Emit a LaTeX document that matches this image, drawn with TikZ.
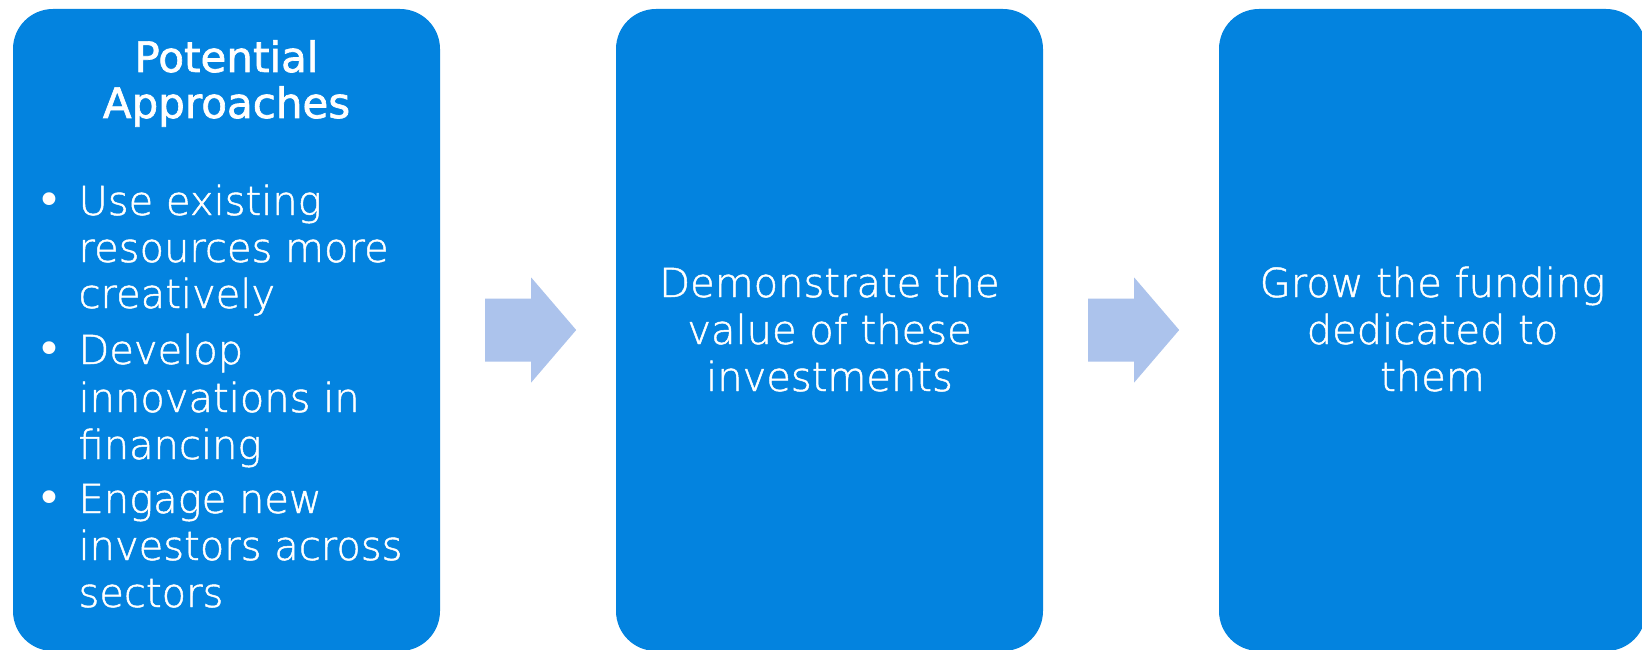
\documentclass[tikz,border=0pt]{standalone}
\usepackage{fontspec}
\setmainfont{DejaVu Sans}
\newfontfamily\headfont[FakeBold=1.6]{DejaVu Sans}
\newfontfamily\lightfont[FakeBold=1.2]{DejaVu Sans ExtraLight}
\usetikzlibrary{calc}

\definecolor{panelblue}{RGB}{3,131,223}
\definecolor{arrowblue}{RGB}{172,195,236}

\tikzset{
  panel/.style={rectangle, rounded corners=40pt, fill=panelblue,
    minimum width=427pt, minimum height=642pt, inner sep=0pt},
  flowarrow/.style={fill=arrowblue},
  headtext/.style={text=white, anchor=base, font=\headfont\fontsize{42}{46}\selectfont},
  itemtext/.style={text=white, anchor=base, font=\lightfont\fontsize{40}{47}\selectfont},
}

\begin{document}
\begin{tikzpicture}[x=1pt,y=-1pt]
\useasboundingbox (0,0) rectangle (1642,650);
\fill[white] (0,0) rectangle (1642,650);
% panels
\node[panel] (b1) at (226.5,330) {};
\node[panel] (b2) at (829.5,330) {};
\node[panel] (b3) at (1432.5,330) {};
% arrows
\coordinate (a1) at ($(b1.east)+(45,0)$);
\coordinate (a2) at ($(b2.east)+(45,0)$);
\foreach \a in {a1,a2}
  \fill[flowarrow] (\a) ++(0,-31.5) -- ++(46,0) -- ++(0,-21) -- ++(45,52.5)
    -- ++(-45,52.5) -- ++(0,-21) -- ++(-46,0) -- cycle;
% first panel
\node[headtext] (h1) at (226.5,72) {Potential};
\node[headtext] (h2) at (226.5,118) {Approaches};
\foreach \yy [count=\i] in {215,364,513}
  \node[itemtext, font=\fontsize{44}{47}\selectfont] (dot\i) at (49,\yy) {•};
\foreach \yy/\t [count=\i] in {215/Use existing, 262/resources more, 308/creatively,
    364/Develop, 412/innovations in, 459/financing,
    513/Engage new, 560/investors across, 607/sectors}
  \node[itemtext, anchor=base west] (l\i) at (75,\yy) {\t};
% second and third panel
\foreach \yy/\t [count=\i] in {297/Demonstrate the, 344/value of these, 391/investments}
  \node[itemtext] (m\i) at (829.5,\yy) {\t};
\foreach \yy/\t [count=\i] in {297/Grow the funding, 344/dedicated to, 391/them}
  \node[itemtext] (r\i) at (1432.5,\yy) {\t};
\end{tikzpicture}
\end{document}
